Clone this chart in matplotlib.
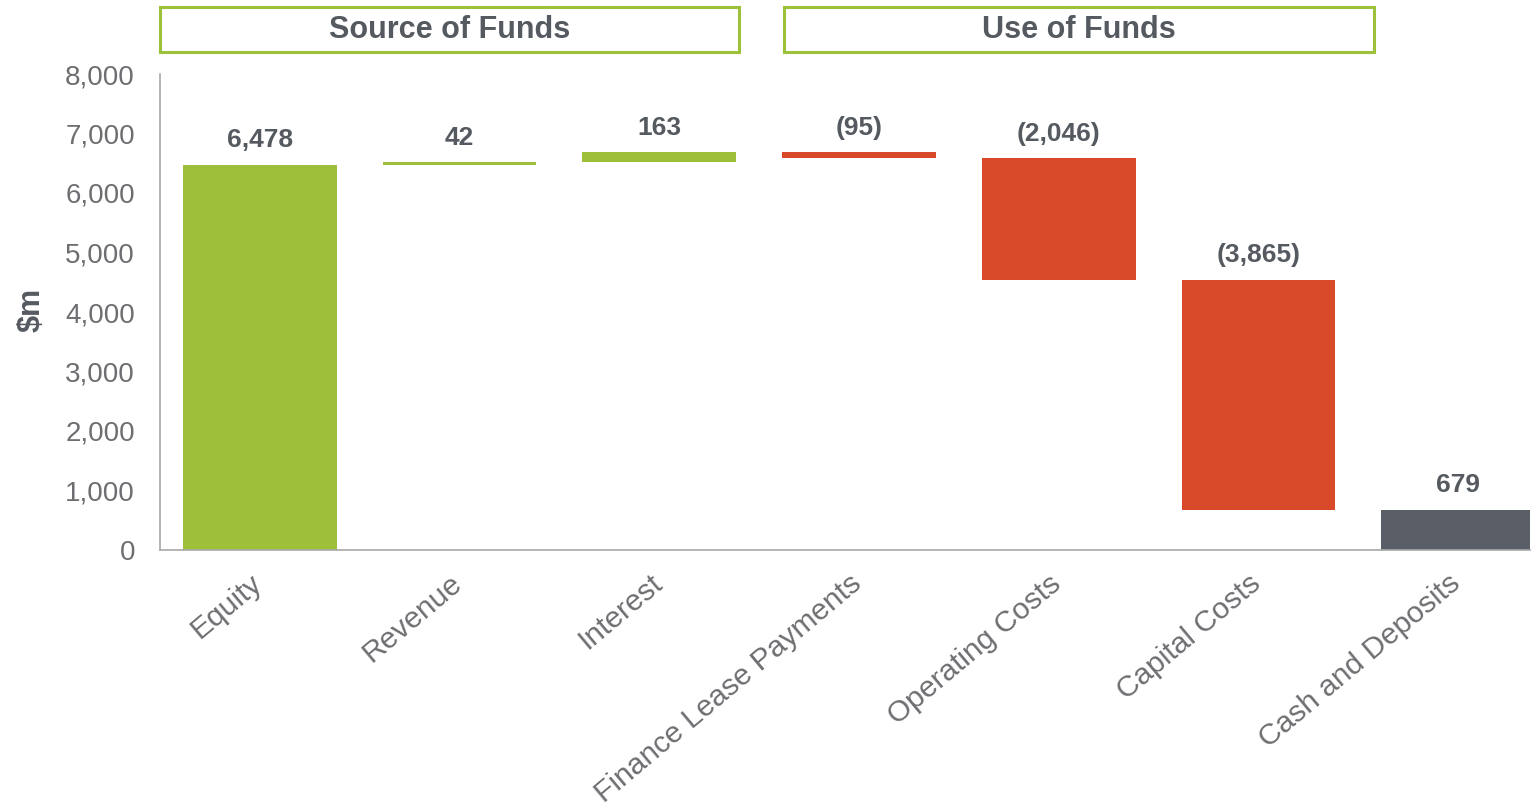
import matplotlib.pyplot as plt
from matplotlib.patches import Rectangle
from matplotlib.transforms import ScaledTranslation

plt.rcParams['font.family'] = ['Liberation Sans', 'DejaVu Sans']

categories = ['Equity', 'Revenue', 'Interest', 'Finance Lease Payments',
              'Operating Costs', 'Capital Costs', 'Cash and Deposits']
values = [6478, 42, 163, -95, -2046, -3865, 679]
labels = ['6,478', '42', '163', '(95)', '(2,046)', '(3,865)', '679']
kinds = ['source', 'source', 'source', 'use', 'use', 'use', 'total']

colors = {'source': '#9dbf3a', 'use': '#d84a29', 'total': '#5a5e66'}
grey = '#6d6e71'
dark = '#555a60'

fig = plt.figure(figsize=(15.4, 8.06), dpi=100)
ax = fig.add_axes([160 / 1540, 1 - 550 / 806, 1370 / 1540, 476 / 806])

# waterfall: each step starts where the previous ended, total bar from zero
running = 0
for i, (v, k) in enumerate(zip(values, kinds)):
    if k == 'total':
        bottom, height = 0, v
    else:
        bottom = running if v >= 0 else running + v
        height = abs(v)
        running += v
    ax.bar(i, height, bottom=bottom, width=0.77, color=colors[k], zorder=2)
    ax.annotate(labels[i], (i, bottom + height), xytext=(0, 9),
                textcoords='offset points', ha='center', va='bottom',
                fontsize=19, fontweight='bold', color=dark)

ax.set_xlim(-0.5, 6.36)
ax.set_ylim(0, 8000)
ax.set_yticks(range(0, 8001, 1000))
ax.set_yticklabels([f'{t:,}' for t in range(0, 8001, 1000)])
ax.set_xticks(range(len(categories)))
ax.set_xticklabels(categories, rotation=40, ha='right', va='top',
                   rotation_mode='anchor')
ax.tick_params(length=0, labelsize=20, labelcolor=grey)
ax.tick_params(axis='x', pad=14, labelsize=21.5)
ax.tick_params(axis='y', pad=18)
shift = ScaledTranslation(-10 / 100, 0, fig.dpi_scale_trans)
for lab in ax.get_xticklabels():
    lab.set_transform(lab.get_transform() + shift)
for s in ['top', 'right']:
    ax.spines[s].set_visible(False)
for s in ['left', 'bottom']:
    ax.spines[s].set_color('#a8a8a8')
    ax.spines[s].set_linewidth(1.2)

fig.text(32 / 1540, 1 - 310 / 806, '$m', rotation=90, ha='center', va='center',
         fontsize=22, fontweight='bold', color=dark)

# header boxes
for x0, x1, txt in [(160, 739, 'Source of Funds'), (784, 1374, 'Use of Funds')]:
    fig.add_artist(Rectangle((x0 / 1540, 1 - 52 / 806), (x1 - x0) / 1540, 45 / 806,
                             transform=fig.transFigure, facecolor='white',
                             edgecolor='#9dc13b', linewidth=2.2))
    fig.text((x0 + x1) / 2 / 1540, 1 - 30 / 806, txt, ha='center', va='center',
             fontsize=22, fontweight='bold', color=dark)

fig.savefig('out.png', dpi=100)
